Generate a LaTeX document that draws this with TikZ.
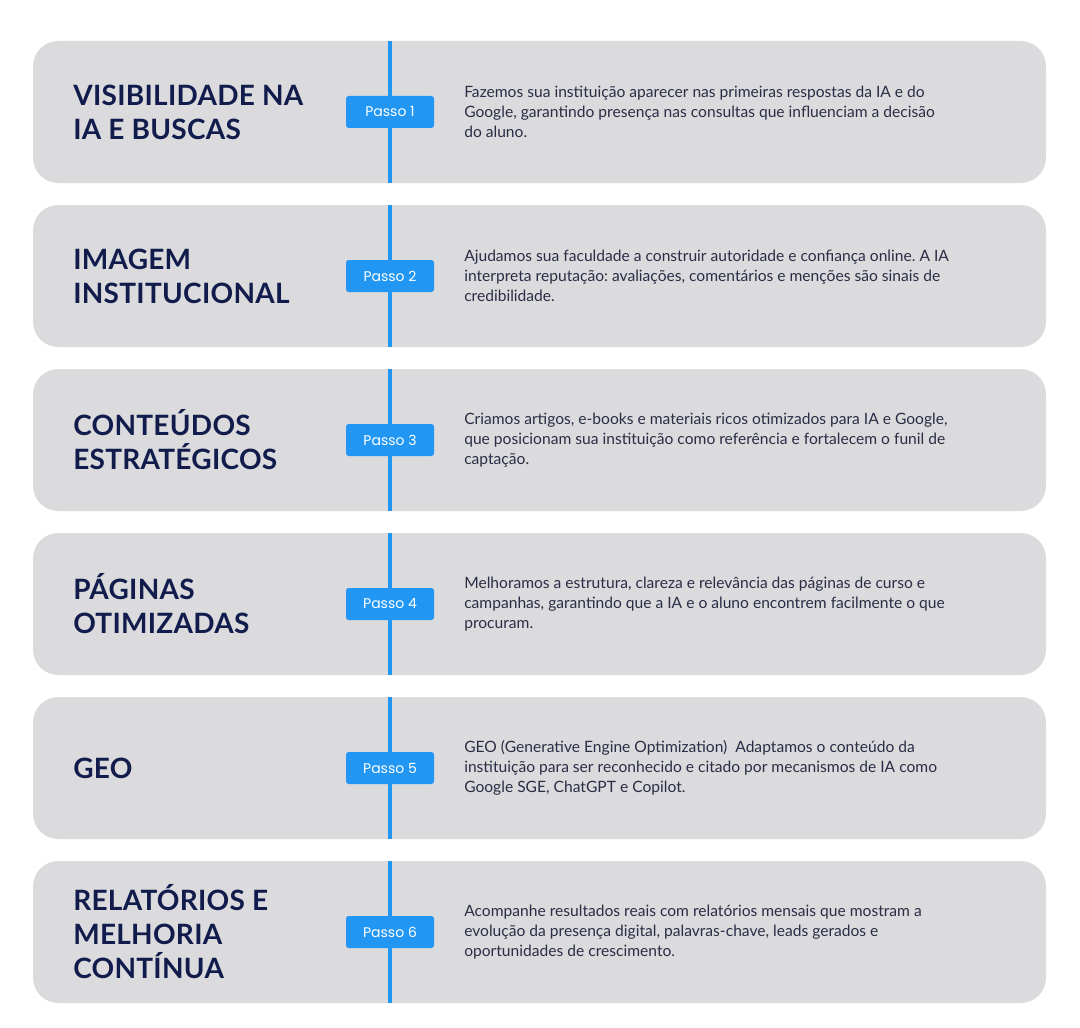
\documentclass[tikz,border=0pt]{standalone}
\usepackage{fontspec}
\setmainfont{Lato}
\newfontfamily\titlefont[LetterSpace=1]{Lato}
\newfontfamily\badgefont{Poppins}
\definecolor{cardgray}{HTML}{DBDBDD}
\definecolor{stepblue}{HTML}{2196F3}
\definecolor{titlenavy}{HTML}{111C4C}
\definecolor{bodyink}{HTML}{2A2D45}
\frenchspacing
\begin{document}
\begin{tikzpicture}[
      x=0.75pt, y=-0.75pt,
      card/.style={rectangle, rounded corners=19pt, fill=cardgray,
        minimum width=759.75pt, minimum height=106.5pt, inner sep=0pt},
      badge/.style={rectangle, rounded corners=2pt, fill=stepblue, text=white,
        minimum width=66pt, minimum height=24pt, inner sep=0pt,
        font=\badgefont\fontsize{10.5}{12}\selectfont},
      steptitle/.style={anchor=west, align=left, inner sep=0pt, text=titlenavy,
        font=\titlefont\bfseries\fontsize{21}{25.5}\selectfont},
      stepdesc/.style={anchor=west, align=left, inner sep=0pt, text=bodyink,
        font=\fontsize{11.7}{15}\selectfont},
      timeline/.style={stepblue, line width=3pt},
    ]
      \useasboundingbox (0,0) rectangle (1080,1027);
      \foreach \i/\ttl/\dsc in {
        1/{VISIBILIDADE NA\\IA E BUSCAS}/{Fazemos sua instituição aparecer nas primeiras respostas da IA e do\\Google, garantindo presença nas consultas que influenciam a decisão\\do aluno.},
        2/{IMAGEM\\INSTITUCIONAL}/{Ajudamos sua faculdade a construir autoridade e confiança online. A IA\\interpreta reputação: avaliações, comentários e menções são sinais de\\credibilidade.},
        3/{CONTEÚDOS\\ESTRATÉGICOS}/{Criamos artigos, e-books e materiais ricos otimizados para IA e Google,\\que posicionam sua instituição como referência e fortalecem o funil de\\captação.},
        4/{PÁGINAS\\OTIMIZADAS}/{Melhoramos a estrutura, clareza e relevância das páginas de curso e\\campanhas, garantindo que a IA e o aluno encontrem facilmente o que\\procuram.},
        5/{GEO}/{GEO (Generative Engine Optimization)\ \ Adaptamos o conteúdo da\\instituição para ser reconhecido e citado por mecanismos de IA como\\Google SGE, ChatGPT e Copilot.},
        6/{RELATÓRIOS E\\MELHORIA\\CONTÍNUA}/{Acompanhe resultados reais com relatórios mensais que mostram a\\evolução da presença digital, palavras-chave, leads gerados e\\oportunidades de crescimento.}} {
        \node[card] (card\i) at (539.5, 112+164*\i-164) {};
        \coordinate (top\i) at (card\i.north -| 390,0);
        \coordinate (bot\i) at (card\i.south -| 390,0);
        \draw[timeline] (top\i) -- (bot\i);
        \node[badge] (badge\i) at (390, 112+164*\i-164) {Passo \i};
        \node[steptitle] (title\i) at (73, 112+164*\i-164) {\ttl};
        \node[stepdesc] (desc\i) at (464, 112+164*\i-164) {\dsc};
      }
    \end{tikzpicture}
\end{document}
